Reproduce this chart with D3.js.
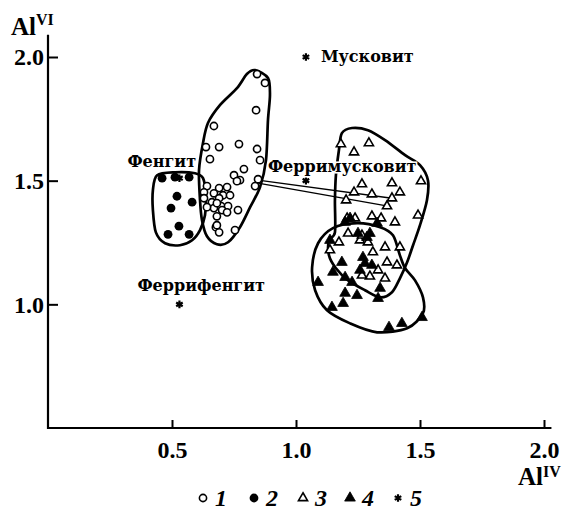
<!DOCTYPE html>
<html>
<head>
<meta charset="utf-8">
<script src="https://cdn.jsdelivr.net/npm/d3@7"></script>
<style>
  html, body { margin: 0; padding: 0; background: #fff; }
  svg { display: block; }
</style>
</head>
<body>
<svg id="chart" width="575" height="510"></svg>
<script>
// Al(IV) vs Al(VI) in micas: analysed grains and ideal end-members.

// Ticks
const xTicks = [0.5, 1.0, 1.5, 2.0];
const yTicks = [1.0, 1.5, 2.0];
const xTickLabels = ["0.5", "1.0", "1.5", "2.0"];
const yTickLabels = ["1.0", "1.5", "2.0"];

// 1 – open circles [AlIV, AlVI]
const series1 = [
  [0.843, 1.931], [0.875, 1.895], [0.839, 1.785], [0.669, 1.721], [0.637, 1.636],
  [0.690, 1.636], [0.770, 1.648], [0.843, 1.628], [0.653, 1.587], [0.855, 1.583],
  [0.790, 1.547], [0.750, 1.522], [0.774, 1.502], [0.847, 1.506], [0.835, 1.478],
  [0.641, 1.478], [0.690, 1.470], [0.722, 1.474], [0.629, 1.453], [0.669, 1.449],
  [0.706, 1.441], [0.734, 1.441], [0.690, 1.429], [0.629, 1.429], [0.661, 1.413],
  [0.698, 1.397], [0.726, 1.397], [0.669, 1.389], [0.702, 1.381], [0.722, 1.372],
  [0.766, 1.381], [0.681, 1.356], [0.677, 1.312], [0.690, 1.291], [0.754, 1.300],
  [0.762, 1.498], [0.641, 1.393], [0.681, 1.409], [0.681, 1.320]
];

// 2 – filled circles
const series2 = [
  [0.512, 1.514], [0.569, 1.514], [0.460, 1.510], [0.520, 1.437], [0.496, 1.389],
  [0.528, 1.316], [0.484, 1.283], [0.569, 1.283], [0.581, 1.413]
];

// 3 – open triangles
const series3 = [
  [1.181, 1.648], [1.294, 1.652], [1.234, 1.615], [1.504, 1.498], [1.266, 1.486],
  [1.387, 1.490], [1.419, 1.453], [1.387, 1.429], [1.234, 1.453], [1.306, 1.445],
  [1.202, 1.421], [1.367, 1.397], [1.492, 1.360], [1.206, 1.348], [1.343, 1.348],
  [1.306, 1.356], [1.399, 1.332], [1.238, 1.348], [1.210, 1.287], [1.173, 1.251],
  [1.258, 1.259], [1.290, 1.251], [1.359, 1.231], [1.137, 1.219], [1.419, 1.231],
  [1.310, 1.211], [1.367, 1.170], [1.407, 1.158], [1.331, 1.138], [1.298, 1.113],
  [1.266, 1.117], [1.359, 1.105], [1.266, 1.279]
];

// 4 – filled triangles
const series4 = [
  [1.218, 1.348], [1.198, 1.332], [1.327, 1.328], [1.250, 1.287], [1.286, 1.271],
  [1.298, 1.287], [1.137, 1.259], [1.185, 1.170], [1.270, 1.190], [1.278, 1.166],
  [1.306, 1.158], [1.258, 1.138], [1.149, 1.130], [1.198, 1.109], [1.226, 1.089],
  [1.339, 1.065], [1.331, 1.024], [1.246, 1.036], [1.089, 1.089], [1.145, 0.988],
  [1.190, 1.004], [1.375, 0.907], [1.427, 0.923], [1.508, 0.947], [1.198, 1.045]
];

// 5 – ideal end-members
const endMembers = ["Мусковит", "Ферримусковит", "Фенгит", "Феррифенгит"];
const endMemberX = [1.04, 1.04, 0.53, 0.53];
const endMemberY = [2.0, 1.50, 1.51, 1.0];

// Field outlines
const field1 = [
  [0.835, 1.947], [0.887, 1.915], [0.895, 1.846], [0.887, 1.745], [0.879, 1.583],
  [0.855, 1.474], [0.815, 1.393], [0.774, 1.312], [0.726, 1.251], [0.681, 1.243],
  [0.641, 1.275], [0.621, 1.340], [0.613, 1.421], [0.609, 1.543], [0.625, 1.652],
  [0.645, 1.733], [0.694, 1.806], [0.762, 1.874], [0.802, 1.931]
];
const field2 = [
  [0.440, 1.522], [0.512, 1.534], [0.593, 1.530], [0.625, 1.510], [0.637, 1.441],
  [0.633, 1.360], [0.613, 1.300], [0.581, 1.259], [0.532, 1.239], [0.472, 1.247],
  [0.435, 1.291], [0.423, 1.381], [0.423, 1.462]
];
const field3 = [
  [1.157, 1.291], [1.157, 1.421], [1.161, 1.522], [1.173, 1.623], [1.185, 1.692],
  [1.226, 1.713], [1.290, 1.704], [1.359, 1.664], [1.440, 1.603], [1.500, 1.563],
  [1.532, 1.502], [1.528, 1.421], [1.500, 1.320], [1.472, 1.239], [1.448, 1.170],
  [1.419, 1.105], [1.387, 1.049], [1.339, 1.028], [1.278, 1.057], [1.210, 1.097],
  [1.161, 1.146], [1.133, 1.198], [1.133, 1.259]
];
const field4 = [
  [1.149, 1.308], [1.246, 1.328], [1.339, 1.312], [1.391, 1.279], [1.419, 1.198],
  [1.440, 1.146], [1.480, 1.097], [1.512, 1.028], [1.512, 0.964], [1.448, 0.903],
  [1.327, 0.887], [1.218, 0.923], [1.125, 0.976], [1.077, 1.057], [1.065, 1.150],
  [1.089, 1.247]
];

// Paired tie lines
const tieLines = [
  [[0.847, 1.502], [1.387, 1.429]],
  [[0.847, 1.490], [1.371, 1.397]]
];

const legendLabels = ["1", "2", "3", "4", "5"];

const svg = d3.select("#chart");
const serif = "'Liberation Serif', 'Times New Roman', serif";
const labelFont = "'DejaVu Serif', serif";

const x = d3.scaleLinear().domain([0, 2]).range([48, 544]);
const y = d3.scaleLinear().domain([0.5, 2.0]).range([428, 57]);

// axes
const xAxis = d3.axisBottom(x).tickValues(xTicks)
  .tickFormat((d, i) => xTickLabels[i]).tickSize(-8).tickPadding(13);
const yAxis = d3.axisLeft(y).tickValues(yTicks)
  .tickFormat((d, i) => yTickLabels[i]).tickSize(-10).tickPadding(4);

const gx = svg.append("g").attr("transform", `translate(0,${y(0.5)})`).call(xAxis);
const gy = svg.append("g").attr("transform", `translate(${x(0)},0)`).call(yAxis);
[gx, gy].forEach(g => {
  g.select(".domain").remove();
  g.selectAll(".tick line").attr("stroke", "#000").attr("stroke-width", 2);
  g.selectAll(".tick text").attr("fill", "#000")
    .attr("font-family", serif).attr("font-size", 24).attr("font-weight", "bold");
});

svg.append("line")
  .attr("x1", x(0)).attr("x2", x(2.03)).attr("y1", y(0.5)).attr("y2", y(0.5))
  .attr("stroke", "#000").attr("stroke-width", 2.2);
svg.append("line")
  .attr("x1", x(0)).attr("x2", x(0)).attr("y1", y(0.5) + 1).attr("y2", y(2.09))
  .attr("stroke", "#000").attr("stroke-width", 2.2);

// axis titles
const yt = svg.append("text").attr("x", 11).attr("y", 35)
  .attr("font-family", serif).attr("font-weight", "bold").attr("fill", "#000");
yt.append("tspan").text("Al").attr("font-size", 25);
yt.append("tspan").text("VI").attr("dy", -10).attr("font-size", 16);

const xt = svg.append("text").attr("x", 518).attr("y", 485)
  .attr("font-family", serif).attr("font-weight", "bold").attr("fill", "#000");
xt.append("tspan").text("Al").attr("font-size", 25);
xt.append("tspan").text("IV").attr("dy", -8).attr("font-size", 16);

// field outlines
const outline = d3.line().x(d => x(d[0])).y(d => y(d[1]))
  .curve(d3.curveCardinalClosed.tension(0.1));
[field1, field2, field3, field4].forEach(f => {
  svg.append("path").attr("d", outline(f))
    .attr("fill", "none").attr("stroke", "#000").attr("stroke-width", 2.7)
    .attr("stroke-linejoin", "round");
});

// tie lines
svg.selectAll(".tie").data(tieLines).join("line").attr("class", "tie")
  .attr("x1", d => x(d[0][0])).attr("y1", d => y(d[0][1]))
  .attr("x2", d => x(d[1][0])).attr("y2", d => y(d[1][1]))
  .attr("stroke", "#000").attr("stroke-width", 1.4);

// markers
const triOpen = d3.symbol().type(d3.symbolTriangle).size(36);
const triFill = d3.symbol().type(d3.symbolTriangle).size(50);
const star = d3.symbol().type(d3.symbolAsterisk).size(40);

svg.selectAll(".s1").data(series1).join("circle").attr("class", "s1")
  .attr("cx", d => x(d[0])).attr("cy", d => y(d[1])).attr("r", 3.6)
  .attr("fill", "#fff").attr("stroke", "#000").attr("stroke-width", 1.6);
svg.selectAll(".s2").data(series2).join("circle").attr("class", "s2")
  .attr("cx", d => x(d[0])).attr("cy", d => y(d[1])).attr("r", 4.4)
  .attr("fill", "#000");
svg.selectAll(".s3").data(series3).join("path").attr("class", "s3")
  .attr("transform", d => `translate(${x(d[0])},${y(d[1])})`).attr("d", triOpen)
  .attr("fill", "#fff").attr("stroke", "#000").attr("stroke-width", 1.6);
svg.selectAll(".s4").data(series4).join("path").attr("class", "s4")
  .attr("transform", d => `translate(${x(d[0])},${y(d[1])})`).attr("d", triFill)
  .attr("fill", "#000").attr("stroke", "#000").attr("stroke-width", 0.8);
svg.selectAll(".s5").data(endMembers).join("path").attr("class", "s5")
  .attr("transform", (d, i) => `translate(${x(endMemberX[i])},${y(endMemberY[i])})`)
  .attr("d", star).attr("fill", "none").attr("stroke", "#000").attr("stroke-width", 2.2);

// end-member names
const nameOffsets = [[15, 5], [-38, -9], [-52, -11], [-42, -13]];
svg.selectAll(".name").data(endMembers).join("text").attr("class", "name")
  .attr("x", (d, i) => x(endMemberX[i]) + nameOffsets[i][0])
  .attr("y", (d, i) => y(endMemberY[i]) + nameOffsets[i][1])
  .text(d => d)
  .attr("font-family", labelFont).attr("font-weight", "bold").attr("font-size", 16)
  .attr("fill", "#000")
  .attr("paint-order", "stroke").attr("stroke", "#fff").attr("stroke-width", 3);

// legend
const legendX = [203, 254, 303, 350, 398];
const legendY = 498;
const legend = svg.append("g");
legendLabels.forEach((lab, i) => {
  const cx = legendX[i];
  if (i === 0) legend.append("circle").attr("cx", cx).attr("cy", legendY).attr("r", 3.6)
    .attr("fill", "#fff").attr("stroke", "#000").attr("stroke-width", 1.6);
  if (i === 1) legend.append("circle").attr("cx", cx).attr("cy", legendY).attr("r", 4.4)
    .attr("fill", "#000");
  if (i === 2) legend.append("path").attr("transform", `translate(${cx},${legendY})`)
    .attr("d", triOpen).attr("fill", "#fff").attr("stroke", "#000").attr("stroke-width", 1.6);
  if (i === 3) legend.append("path").attr("transform", `translate(${cx},${legendY})`)
    .attr("d", triFill).attr("fill", "#000").attr("stroke", "#000").attr("stroke-width", 0.8);
  if (i === 4) legend.append("path").attr("transform", `translate(${cx},${legendY})`)
    .attr("d", star).attr("fill", "none").attr("stroke", "#000").attr("stroke-width", 2.2);
  legend.append("text").attr("x", cx + 12).attr("y", legendY + 8).text(lab)
    .attr("font-family", serif).attr("font-style", "italic").attr("font-weight", "bold")
    .attr("font-size", 24).attr("fill", "#000");
});
</script>
</body>
</html>
